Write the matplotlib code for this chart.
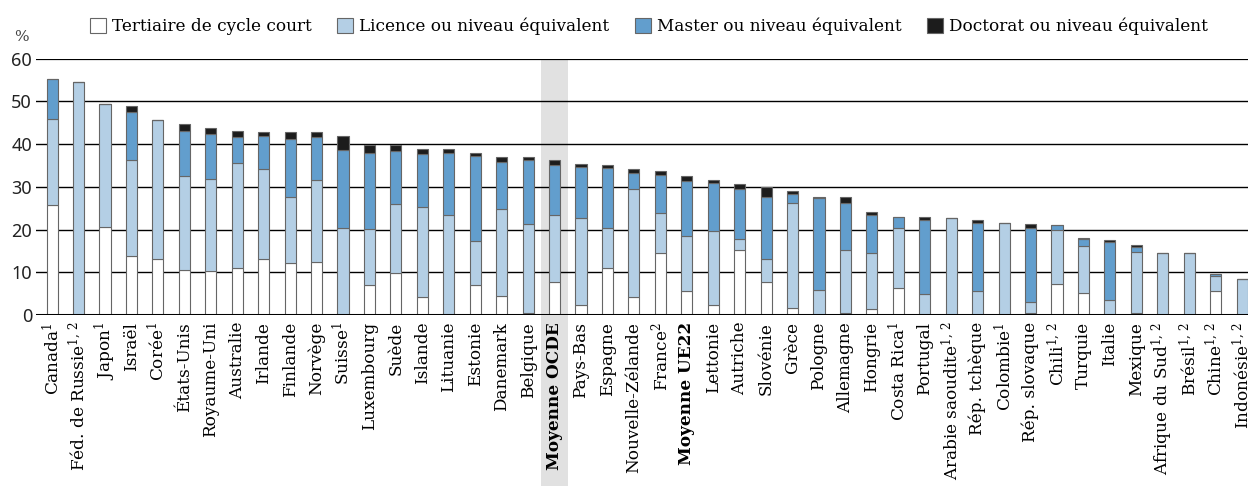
import numpy as np
import matplotlib
matplotlib.use("Agg")
import matplotlib.pyplot as plt
import matplotlib.transforms as mtransforms
from matplotlib.patches import Rectangle


# Data (% of 25-64 year-olds, by tertiary level)
countries = [
    r"Canada$^{1}$", r"Féd. de Russie$^{1,\,2}$", r"Japon$^{1}$", "Israël", r"Corée$^{1}$",
    "États-Unis", "Royaume-Uni", "Australie", "Irlande", "Finlande", "Norvège",
    r"Suisse$^{1}$", "Luxembourg", "Suède", "Islande", "Lituanie", "Estonie",
    "Danemark", "Belgique", "Moyenne OCDE", "Pays-Bas", "Espagne",
    "Nouvelle-Zélande", r"France$^{2}$", "Moyenne UE22", "Lettonie", "Autriche",
    "Slovénie", "Grèce", "Pologne", "Allemagne", "Hongrie", r"Costa Rica$^{1}$",
    "Portugal", r"Arabie saoudite$^{1,\,2}$", "Rép. tchèque", r"Colombie$^{1}$",
    "Rép. slovaque", r"Chili$^{1,\,2}$", "Turquie", "Italie", "Mexique",
    r"Afrique du Sud$^{1,\,2}$", r"Brésil$^{1,\,2}$", r"Chine$^{1,\,2}$", r"Indonésie$^{1,\,2}$",
]

short_cycle = [25.7, 0, 20.5, 13.8, 13.0, 10.5, 10.2, 11.1, 13.0, 12.1, 12.3,
               0, 7.0, 9.9, 4.1, 0, 7.1, 4.4, 0.4, 7.6, 2.3, 10.9,
               4.1, 14.6, 5.7, 2.4, 15.1, 7.6, 1.6, 0, 0.5, 1.3, 6.2,
               0, 0, 0, 0, 0.4, 7.2, 5.2, 0, 0.5, 0, 0, 5.7, 0]

bachelor = [20.2, 54.5, 29.0, 22.4, 32.6, 22.0, 21.6, 24.4, 21.3, 15.5, 19.2,
            20.4, 13.2, 16.0, 21.3, 23.5, 10.3, 20.3, 20.8, 15.9, 20.5, 9.4,
            25.3, 9.2, 12.7, 17.2, 2.8, 5.6, 24.7, 5.9, 14.8, 13.2, 14.1,
            5.0, 22.8, 5.5, 21.6, 2.7, 12.6, 11.0, 3.6, 14.3, 14.6, 14.4, 3.4, 8.3]

master = [9.4, 0, 0, 11.4, 0, 10.5, 10.5, 6.1, 7.6, 13.7, 10.2,
          18.3, 17.8, 12.4, 12.3, 14.5, 19.9, 11.2, 15.0, 11.6, 11.8, 14.1,
          3.8, 8.9, 13.0, 11.3, 11.6, 14.5, 2.1, 21.4, 10.9, 8.9, 2.7,
          17.2, 0, 16.1, 0, 17.3, 1.3, 1.5, 13.5, 1.1, 0, 0, 0.6, 0]

doctorate = [0, 0, 0, 1.3, 0, 1.7, 1.4, 1.4, 1.0, 1.5, 1.1,
             3.1, 1.9, 1.6, 1.2, 0.8, 0.7, 1.2, 0.7, 1.1, 0.7, 0.7,
             0.9, 0.9, 1.2, 0.7, 1.1, 2.3, 0.7, 0.4, 1.5, 0.8, 0,
             0.7, 0, 0.6, 0, 0.8, 0, 0.3, 0.4, 0.4, 0, 0, 0, 0]

legend_labels = ["Tertiaire de cycle court", "Licence ou niveau équivalent",
                 "Master ou niveau équivalent", "Doctorat ou niveau équivalent"]
colors = ["#ffffff", "#b4cfe5", "#629ecd", "#1c1c1c"]
highlight = ["Moyenne OCDE", "Moyenne UE22"]

plt.rcParams["font.family"] = ["DejaVu Serif"]
plt.rcParams["mathtext.fontset"] = "dejavuserif"

fig = plt.figure(figsize=(12.48, 4.86), dpi=100)
ax = fig.add_axes([0.029, 0.352, 0.971, 0.527])

x = np.arange(len(countries))
width = 0.42

# grey band behind the OECD average, running down through the labels
oecd = countries.index("Moyenne OCDE")
trans = mtransforms.blended_transform_factory(ax.transData, ax.transAxes)
ax.add_patch(Rectangle((oecd - 0.5, -0.68), 1.0, 1.68, transform=trans,
                       facecolor="#e1e1e1", edgecolor="none", zorder=0, clip_on=False))

# horizontal gridlines
for v in range(10, 61, 10):
    ax.axhline(v, color="black", lw=1.6 if v == 60 else 1.0, zorder=1)

bottom = np.zeros(len(countries))
for vals, col, lab in zip([short_cycle, bachelor, master, doctorate], colors, legend_labels):
    vals = np.array(vals)
    ax.bar(x, vals, width, bottom=bottom, color=col, edgecolor="#666666",
           linewidth=0.8, label=lab, zorder=2)
    bottom += vals

ax.axhline(0, color="black", lw=2.2, zorder=3)

ax.set_xlim(-0.6, 45.22)
ax.set_ylim(0, 60)
ax.set_yticks(range(0, 61, 10))
ax.tick_params(axis="y", length=0, pad=3, labelsize=13, colors="#222222")
for t in ax.get_yticklabels():
    t.set_family("Noto Sans")
ax.set_xticks(x)
ax.set_xticklabels(countries, rotation=90, fontsize=12.2)
ax.tick_params(axis="x", length=0, pad=5)
for t in ax.get_xticklabels():
    if t.get_text() in highlight:
        t.set_fontweight("bold")

for s in ax.spines.values():
    s.set_visible(False)

fig.text(0.011, 0.915, "%", fontsize=11, color="#444444")

fig.legend(loc="upper center", bbox_to_anchor=(0.52, 0.995), ncol=4, frameon=False,
           fontsize=12.2, handlelength=0.95, handleheight=0.95, handletextpad=0.35,
           columnspacing=1.5)

plt.savefig("out.png", dpi=100)
